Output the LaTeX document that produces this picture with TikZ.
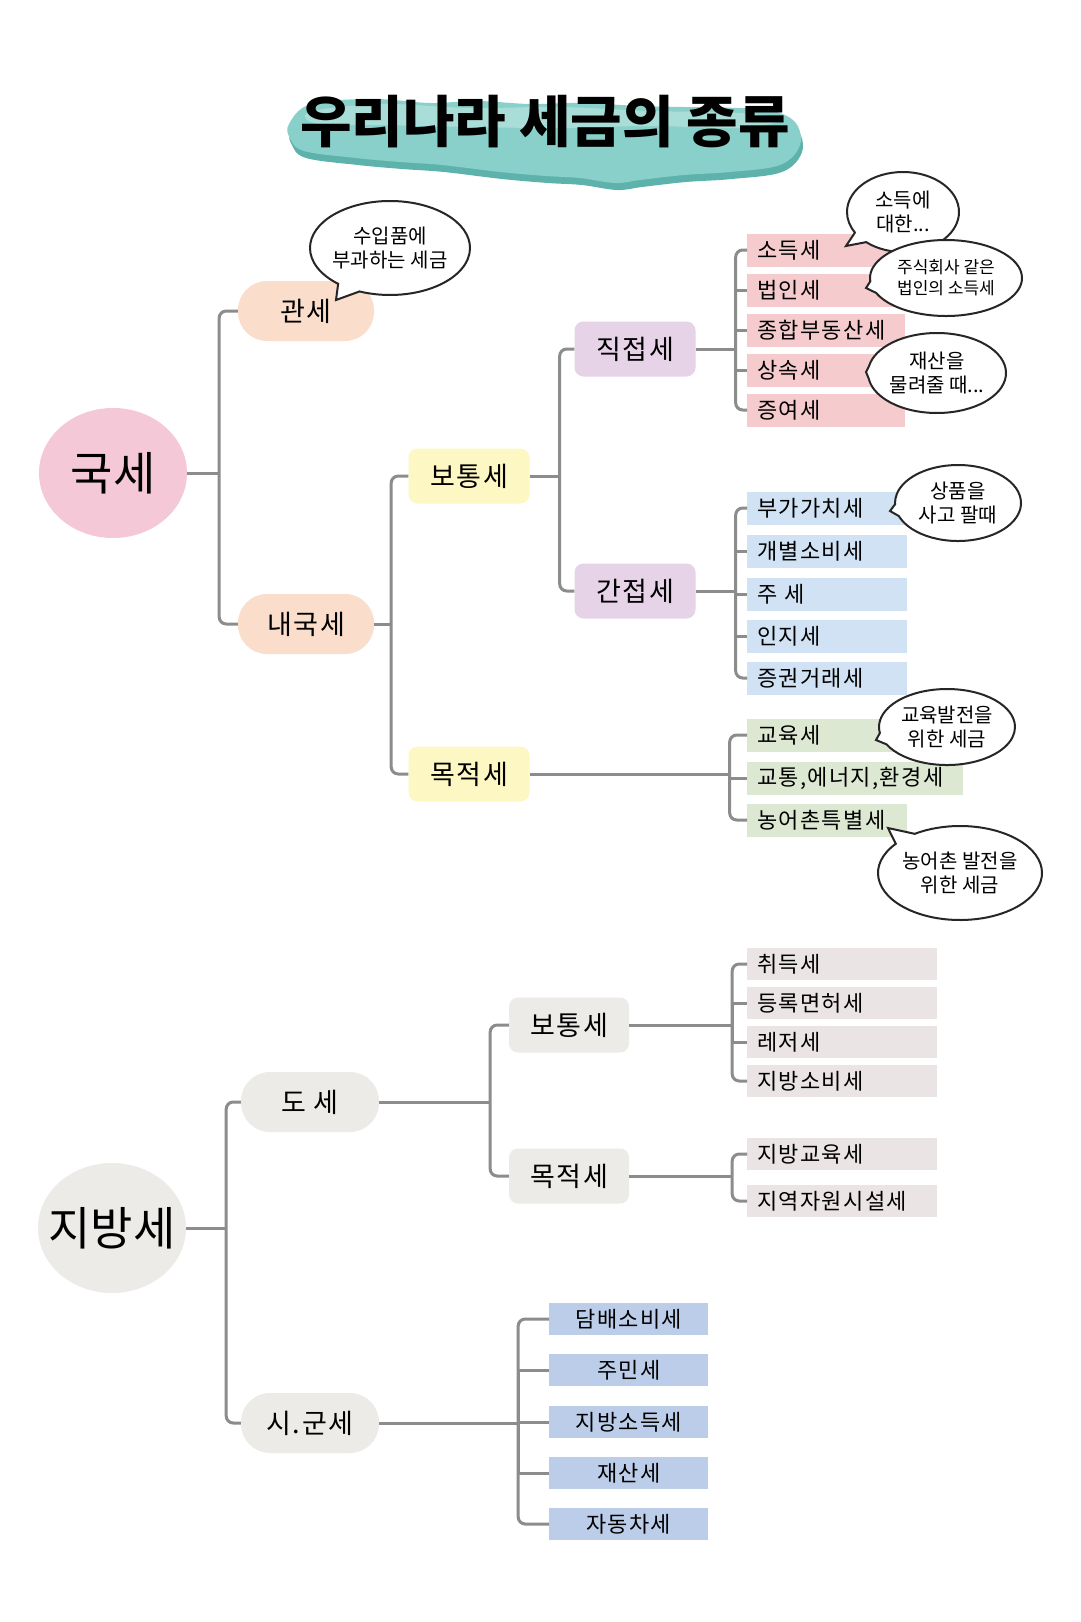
\documentclass[tikz,border=0pt]{standalone}
\usepackage{fontspec}
\setmainfont{Noto Sans CJK KR}
\newfontfamily\leaffont{Noto Sans CJK KR}[LetterSpace=6]
\usetikzlibrary{shapes.geometric,shapes.callouts,calc}
\definecolor{pinkc}{HTML}{F4C8D7}
\definecolor{peach}{HTML}{FADDCB}
\definecolor{yellowc}{HTML}{FDF7C3}
\definecolor{purplec}{HTML}{E7D3E8}
\definecolor{leafpink}{HTML}{F5CBCE}
\definecolor{leafblue}{HTML}{D0E2F3}
\definecolor{leafgreen}{HTML}{DDE8D2}
\definecolor{greyc}{HTML}{EDEBE7}
\definecolor{leafgrey}{HTML}{EAE4E5}
\definecolor{leafbluetwo}{HTML}{BBCDE8}
\definecolor{linec}{HTML}{8C8C8C}
\definecolor{tealc}{HTML}{88D0C9}
\definecolor{tealdark}{HTML}{5DB3AB}
\definecolor{teallight}{HTML}{A9DDD7}
\newcommand\myfs[1]{\fontsize{#1pt}{#1pt}\selectfont}
\begin{document}
\begin{tikzpicture}[x=1pt,y=-1pt,
  conn/.style={draw=linec, line width=3pt, rounded corners=7pt},
  conns/.style={draw=linec, line width=3pt},
  bigc/.style={ellipse, minimum width=148pt, minimum height=130pt, inner xsep=-18pt, inner ysep=0pt, font=\myfs{46}},
  pill/.style={rectangle, rounded corners=29pt, minimum width=136pt, minimum height=60pt, inner sep=0pt, font=\leaffont\myfs{27}},
  midbox/.style={rectangle, rounded corners=9pt, minimum width=121pt, minimum height=55pt, inner sep=0pt, font=\leaffont\myfs{27}},
  leaf/.style={rectangle, anchor=west, minimum height=33pt, inner ysep=0pt, inner xsep=10pt, text width=#1, align=left, font=\leaffont\myfs{22}},
  leaf/.default=138pt,
  leafc/.style={rectangle, anchor=west, minimum width=159pt, minimum height=32pt, inner sep=0pt, font=\leaffont\myfs{22}, fill=leafbluetwo},
  bub/.style={ellipse callout, draw=black!85, line width=2pt, fill=white, inner xsep=-10pt, inner ysep=-4pt, align=center, callout pointer arc=18, font=\fontsize{20pt}{24pt}\selectfont}
]
\useasboundingbox (0,0) rectangle (1080,1622);
\fill[white] (0,0) rectangle (1080,1622);

% ---------- title ----------
\fill[tealdark] plot[smooth cycle, tension=0.6] coordinates {(291,131) (313,111) (375,106) (432,110) (479,108) (532,111) (582,110) (642,113) (686,114) (742,115) (772,117) (797,129) (802,152) (782,172) (732,179) (686,182) (642,187) (617,190) (582,185) (548,183) (502,179) (444,172) (402,169) (358,165) (306,158) (292,145)};
\fill[tealc] plot[smooth cycle, tension=0.6] coordinates {(289,124) (311,104) (373,99) (430,103) (477,101) (530,104) (580,103) (640,106) (684,107) (740,108) (770,110) (795,122) (800,145) (780,165) (730,172) (684,175) (640,180) (615,183) (580,178) (546,176) (500,172) (442,165) (400,162) (356,158) (304,151) (290,138)};
\fill[teallight] plot[smooth cycle, tension=0.6] coordinates {(310,112) (380,104) (470,108) (560,107) (650,111) (740,113) (780,120) (740,128) (650,126) (560,128) (470,127) (380,125) (318,124)};
\node[font=\myfs{56}\bfseries] (title) at (545,122) {우리나라 세금의 종류};

% ---------- 국세 ----------
\node[bigc, fill=pinkc] (gukse) at (113,473) {국세};
\node[pill, fill=peach] (gwanse) at (306,311) {관세};
\node[pill, fill=peach] (naeguk) at (306,624) {내국세};
\node[midbox, fill=yellowc] (botong) at (469,476) {보통세};
\node[midbox, fill=yellowc] (mokjeok) at (469,774) {목적세};
\node[midbox, fill=purplec] (jikjeop) at (635,349) {직접세};
\node[midbox, fill=purplec] (ganjeop) at (635,591) {간접세};

\node[leaf, fill=leafpink] (sodeuk) at (747,250) {소득세};
\node[leaf, fill=leafpink] (beobin) at (747,290) {법인세};
\node[leaf, fill=leafpink] (jonghap) at (747,330) {종합부동산세};
\node[leaf, fill=leafpink] (sangsok) at (747,370) {상속세};
\node[leaf, fill=leafpink] (jeungyeo) at (747,410) {증여세};

\node[leaf=140pt, fill=leafblue] (bugachi) at (747,508) {부가가치세};
\node[leaf=140pt, fill=leafblue] (gaebyeol) at (747,551) {개별소비세};
\node[leaf=140pt, fill=leafblue] (juse) at (747,594) {주 세};
\node[leaf=140pt, fill=leafblue] (inji) at (747,636) {인지세};
\node[leaf=140pt, fill=leafblue] (jeunggwon) at (747,678) {증권거래세};

\node[leaf=140pt, fill=leafgreen] (gyoyuk) at (747,735) {교육세};
\node[leaf=196pt, fill=leafgreen] (gyotong) at (747,778) {교통,에너지,환경세};
\node[leaf=140pt, fill=leafgreen] (nongeo) at (747,820) {농어촌특별세};

% connectors 국세
\coordinate (t1) at ($(gukse.east)+(32,0)$);
\draw[conns] (gukse.east) -- (t1);
\draw[conn] (gwanse.west) -| (t1) |- (naeguk.west);
\coordinate (t2) at ($(naeguk.east)+(17,0)$);
\draw[conns] (naeguk.east) -- (t2);
\draw[conn] (botong.west) -| (t2) |- (mokjeok.west);
\coordinate (t3) at ($(botong.east)+(30,0)$);
\draw[conns] (botong.east) -- (t3);
\draw[conn] (jikjeop.west) -| (t3) |- (ganjeop.west);
\coordinate (t4) at ($(jikjeop.east)+(40,0)$);
\draw[conns] (jikjeop.east) -- (t4);
\draw[conn] (sodeuk.west) -| (t4) |- (jeungyeo.west);
\foreach \n in {beobin,jonghap,sangsok} \draw[conns] (t4) |- (\n.west);
\coordinate (t5) at ($(ganjeop.east)+(40,0)$);
\draw[conns] (ganjeop.east) -- (t5);
\draw[conn] (bugachi.west) -| (t5) |- (jeunggwon.west);
\foreach \n in {gaebyeol,juse,inji} \draw[conns] (t5) |- (\n.west);
\coordinate (t6) at ($(mokjeok.east)+(200,0)$);
\draw[conns] (mokjeok.east) -- (t6);
\draw[conn] (gyoyuk.west) -| (t6) |- (nongeo.west);
\draw[conns] (t6) |- (gyotong.west);

% ---------- 지방세 ----------
\node[bigc, fill=greyc] (jibang) at (112,1228) {지방세};
\node[pill, fill=greyc, minimum width=138pt] (dose) at (310,1102) {도 세};
\node[pill, fill=greyc, minimum width=138pt] (sigun) at (310,1423) {시.군세};
\node[midbox, fill=greyc, minimum width=120pt] (botongb) at (569,1025) {보통세};
\node[midbox, fill=greyc, minimum width=120pt] (mokjeokb) at (569,1176) {목적세};

\node[leaf=170pt, fill=leafgrey, minimum height=32pt] (chwideuk) at (747,964) {취득세};
\node[leaf=170pt, fill=leafgrey, minimum height=32pt] (deungrok) at (747,1003) {등록면허세};
\node[leaf=170pt, fill=leafgrey, minimum height=32pt] (lejeo) at (747,1042) {레저세};
\node[leaf=170pt, fill=leafgrey, minimum height=32pt] (jibangsobi) at (747,1081) {지방소비세};
\node[leaf=170pt, fill=leafgrey, minimum height=32pt] (jibanggyo) at (747,1154) {지방교육세};
\node[leaf=170pt, fill=leafgrey, minimum height=32pt] (jiyeok) at (747,1201) {지역자원시설세};

\node[leafc] (dambae) at (549,1319) {담배소비세};
\node[leafc] (jumin) at (549,1370) {주민세};
\node[leafc] (jibangso) at (549,1422) {지방소득세};
\node[leafc] (jaesan) at (549,1473) {재산세};
\node[leafc] (jadongcha) at (549,1524) {자동차세};

\coordinate (t7) at ($(jibang.east)+(40,0)$);
\draw[conns] (jibang.east) -- (t7);
\draw[conn] (dose.west) -| (t7) |- (sigun.west);
\coordinate (t8) at ($(dose.east)+(111,0)$);
\draw[conns] (dose.east) -- (t8);
\draw[conn] (botongb.west) -| (t8) |- (mokjeokb.west);
\coordinate (t9) at ($(botongb.east)+(103,0)$);
\draw[conns] (botongb.east) -- (t9);
\draw[conn] (chwideuk.west) -| (t9) |- (jibangsobi.west);
\foreach \n in {deungrok,lejeo} \draw[conns] (t9) |- (\n.west);
\coordinate (t10) at ($(mokjeokb.east)+(103,0)$);
\draw[conns] (mokjeokb.east) -- (t10);
\draw[conn] (jibanggyo.west) -| (t10) |- (jiyeok.west);
\coordinate (t11) at ($(sigun.east)+(139,0)$);
\draw[conns] (sigun.east) -- (t11);
\draw[conn] (dambae.west) -| (t11) |- (jadongcha.west);
\foreach \n in {jumin,jibangso,jaesan} \draw[conns] (t11) |- (\n.west);

% ---------- speech bubbles ----------
\node[bub, minimum width=160pt, minimum height=94pt, callout absolute pointer={(336,300)}] (b1) at (390,248) {수입품에\\부과하는 세금};
\node[bub, minimum width=112pt, minimum height=80pt, callout absolute pointer={(846,246)}] (b2) at (903,212) {소득에\\대한...};
\node[bub, minimum width=152pt, minimum height=76pt, font=\fontsize{17pt}{21pt}\selectfont, callout absolute pointer={(866,288)}] (b3) at (946,278) {주식회사 같은\\법인의 소득세};
\node[bub, minimum width=138pt, minimum height=80pt, callout absolute pointer={(866,372)}] (b4) at (937,373) {재산을\\물려줄 때...};
\node[bub, minimum width=126pt, minimum height=76pt, callout absolute pointer={(890,511)}] (b5) at (958,503) {상품을\\사고 팔때};
\node[bub, minimum width=136pt, minimum height=76pt, callout absolute pointer={(876,740)}] (b6) at (947,727) {교육발전을\\위한 세금};
\node[bub, minimum width=164pt, minimum height=94pt, callout absolute pointer={(888,828)}] (b7) at (960,873) {농어촌 발전을\\위한 세금};
\end{tikzpicture}
\end{document}
